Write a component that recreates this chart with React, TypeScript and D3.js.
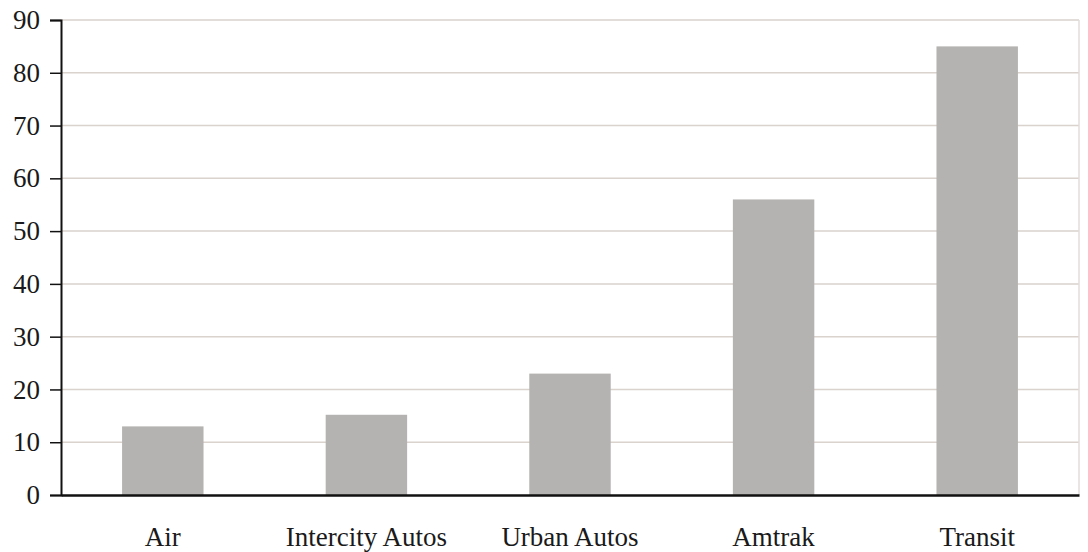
import React, { useEffect, useRef } from "react";
import * as d3 from "d3";

// chart data
const categories = ["Air", "Intercity Autos", "Urban Autos", "Amtrak", "Transit"];
const values = [13, 15.2, 23, 56, 85];
const yTicks = [0, 10, 20, 30, 40, 50, 60, 70, 80, 90];

const App = () => {
  const ref = useRef<SVGSVGElement>(null);

  useEffect(() => {
    if (!ref.current) return;
    const svg = d3.select(ref.current);
    svg.selectAll("*").remove();

    const W = 1088;
    const H = 552;
    const margin = { top: 20, right: 9, bottom: 57, left: 61 };
    const width = W - margin.left - margin.right;
    const height = H - margin.top - margin.bottom;
    const font = "'Liberation Serif', 'Times New Roman', serif";

    const g = svg.append("g").attr("transform", `translate(${margin.left},${margin.top})`);

    const x = d3.scaleBand<string>()
      .domain(categories)
      .range([0, width])
      .paddingInner(0.6)
      .paddingOuter(0.3);

    const y = d3.scaleLinear().domain([0, 90]).range([height, 0]);

    // gridlines
    g.append("g")
      .selectAll("line")
      .data(yTicks.filter(t => t > 0))
      .enter()
      .append("line")
      .attr("x1", 0)
      .attr("x2", width)
      .attr("y1", d => y(d))
      .attr("y2", d => y(d))
      .attr("stroke", "#dad2cd")
      .attr("stroke-width", 1.5);

    // faint right border
    g.append("line")
      .attr("x1", width)
      .attr("x2", width)
      .attr("y1", 0)
      .attr("y2", height)
      .attr("stroke", "#e2dcd9")
      .attr("stroke-width", 1.5);

    // bars
    g.selectAll(".bar")
      .data(values)
      .enter()
      .append("rect")
      .attr("class", "bar")
      .attr("x", (d, i) => x(categories[i]) || 0)
      .attr("y", d => y(d))
      .attr("width", x.bandwidth())
      .attr("height", d => height - y(d))
      .attr("fill", "#b5b3b1");

    // y axis
    const yAxis = g.append("g")
      .call(d3.axisLeft(y).tickValues(yTicks).tickSize(11).tickPadding(10).tickFormat(d3.format("d")));
    yAxis.select(".domain").attr("stroke", "#111").attr("stroke-width", 2);
    yAxis.selectAll(".tick line").attr("stroke", "#111").attr("stroke-width", 1.5);
    yAxis.selectAll("text")
      .style("font-family", font)
      .style("font-size", "27px")
      .attr("fill", "#1a1a1a");

    // x axis
    const xAxis = g.append("g")
      .attr("transform", `translate(0,${height})`)
      .call(d3.axisBottom(x).tickSize(0).tickPadding(32));
    xAxis.select(".domain").attr("stroke", "#111").attr("stroke-width", 2.5);
    xAxis.selectAll("text")
      .style("font-family", font)
      .style("font-size", "27px")
      .attr("fill", "#1a1a1a");
  }, []);

  return (
    <svg
      ref={ref}
      width={1088}
      height={552}
      style={{ position: "absolute", left: 0, top: 0, background: "#fff" }}
    />
  );
};

export default App;
